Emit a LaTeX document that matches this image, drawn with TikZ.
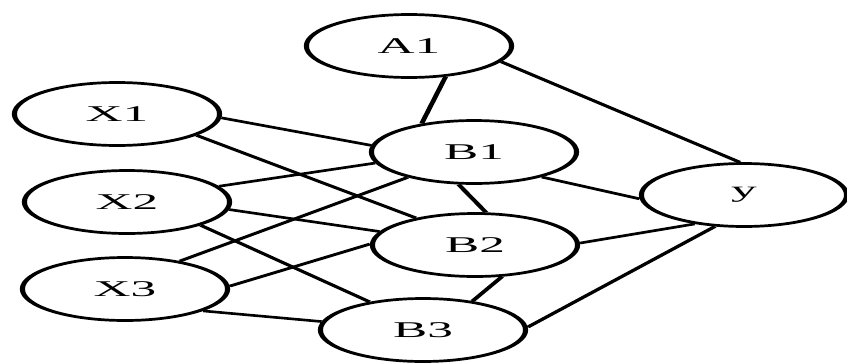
\documentclass[tikz,border=0pt]{standalone}
\usepackage{fontspec}
\setmainfont{Liberation Serif}
\usetikzlibrary{shapes.geometric}
\newcommand{\widelabel}[1]{\scalebox{1.2}[1]{#1}}
\begin{document}
\begin{tikzpicture}
\useasboundingbox (0pt,0pt) rectangle (847pt,-362pt);
% the whole network is drawn narrow and stretched sideways
\begin{scope}[transform canvas={xscale=1.9}, x={(0.526316pt,0pt)}, y={(0pt,-1pt)},
  unit/.style={ellipse, draw, fill=white, line width=2.7pt, minimum width=108pt,
    minimum height=63pt, inner sep=0pt, font=\fontsize{22.5}{24}\selectfont},
  link/.style={line width=2.6pt}]
  % variables
  \node[unit] (A1) at (409,46)  {\widelabel{A1}};
  \node[unit] (X1) at (117,114) {\widelabel{X1}};
  \node[unit] (X2) at (127,202) {\widelabel{X2}};
  \node[unit] (X3) at (125,289) {\widelabel{X3}};
  \node[unit] (B1) at (474,152) {\widelabel{B1}};
  \node[unit] (B2) at (475,245) {\widelabel{B2}};
  \node[unit] (B3) at (423,330) {\widelabel{B3}};
  \node[unit] (Y)  at (744,195) {\widelabel{y}};
  % links
  \draw[link] (A1.-58)  -- (B1.134);
  \draw[link] (A1.-18)  -- (Y.94);
  \draw[link] (X1.-4)   -- (B1.173);
  \draw[link] (X1.-27)  -- (B2.139);
  \draw[link] (X2.18)   -- (B1.-168);
  \draw[link] (X2.-8)   -- (B2.165);
  \draw[link] (X2.-31)  -- (B3.135);
  \draw[link] (X3.44)   -- (B1.-144);
  \draw[link] (X3.3)    -- (B2.179);
  \draw[link] (X3.-28)  -- (B3.171);
  \draw[link] (B1.-104) -- (B2.80);
  \draw[link] (B1.-35)  -- (Y.-176);
  \draw[link] (B2.2)    -- (Y.-132);
  \draw[link] (B2.-66)  -- (B3.48);
  \draw[link] (B3.3)    -- (Y.-116);
\end{scope}
\end{tikzpicture}
\end{document}
